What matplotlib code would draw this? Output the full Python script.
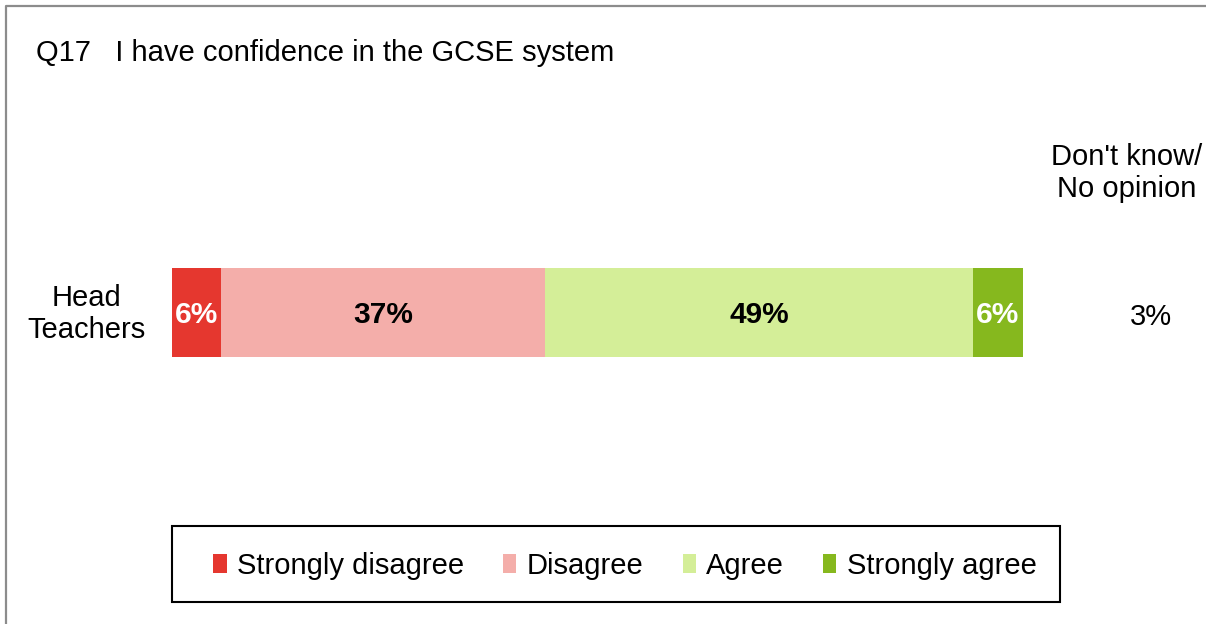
import matplotlib.pyplot as plt
from matplotlib.lines import Line2D
from matplotlib.patches import Patch, Rectangle


CATEGORIES = ["Strongly disagree", "Disagree", "Agree", "Strongly agree"]
VALUES = [5.6, 36.9, 48.8, 5.7]
COLORS = ["#E5372F", "#F4AEAA", "#D4EE98", "#86B81E"]
LABEL_COLORS = ["white", "black", "black", "white"]
GROUP = "Head\nTeachers"
DONT_KNOW = 3
TITLE = "Q17   I have confidence in the GCSE system"

W, H = 1206, 624


def fx(px):
    return px / W


def fy(py):
    return 1 - py / H


def main() -> None:
    plt.rcParams.update({
        "font.family": ["Liberation Sans", "DejaVu Sans"],
        "font.size": 21,
    })

    fig = plt.figure(figsize=(W / 100, H / 100), dpi=100)

    # stacked bar axis, placed in pixel terms
    ax = fig.add_axes([fx(172), fy(357), (1023 - 172) / W, (357 - 268) / H])
    left = 0
    for value, color, tcolor in zip(VALUES, COLORS, LABEL_COLORS):
        ax.barh(0, value, left=left, height=1.0, color=color, linewidth=0)
        ax.text(left + value / 2, -0.03, f"{value:.0f}%", ha="center",
                va="center", color=tcolor, fontweight="bold", fontsize=21.5)
        left += value
    ax.set_xlim(0, sum(VALUES))
    ax.set_ylim(-0.5, 0.5)
    ax.axis("off")

    fig.text(fx(36), fy(53), TITLE, ha="left", va="center")
    fig.text(fx(86), fy(314), GROUP, ha="center", va="center",
             linespacing=1.15)
    fig.text(fx(1127), fy(173), "Don't know/\nNo opinion", ha="center",
             va="center", linespacing=1.15)
    fig.text(fx(1151), fy(317), f"{DONT_KNOW}%", ha="center", va="center")

    # legend frame drawn separately so its size is fixed
    fig.patches.append(Rectangle((fx(172), fy(602)), (1060 - 172) / W,
                                 (602 - 526) / H, transform=fig.transFigure,
                                 fill=False, edgecolor="black", linewidth=1.5))
    handles = [Patch(facecolor=c, edgecolor="none", label=n)
               for c, n in zip(COLORS, CATEGORIES)]
    fig.legend(handles=handles, loc="center", ncol=4, frameon=False,
               bbox_to_anchor=(fx(625), fy(566)),
               handlelength=0.45, handleheight=0.6, handletextpad=0.35,
               columnspacing=1.35)

    # outer border: left and top edges only
    fig.add_artist(Line2D([fx(6), fx(6), 1], [0, fy(6), fy(6)],
                          transform=fig.transFigure, color="#8C8C8C",
                          linewidth=1.6))

    fig.savefig("out.png", dpi=100)


if __name__ == "__main__":
    main()
